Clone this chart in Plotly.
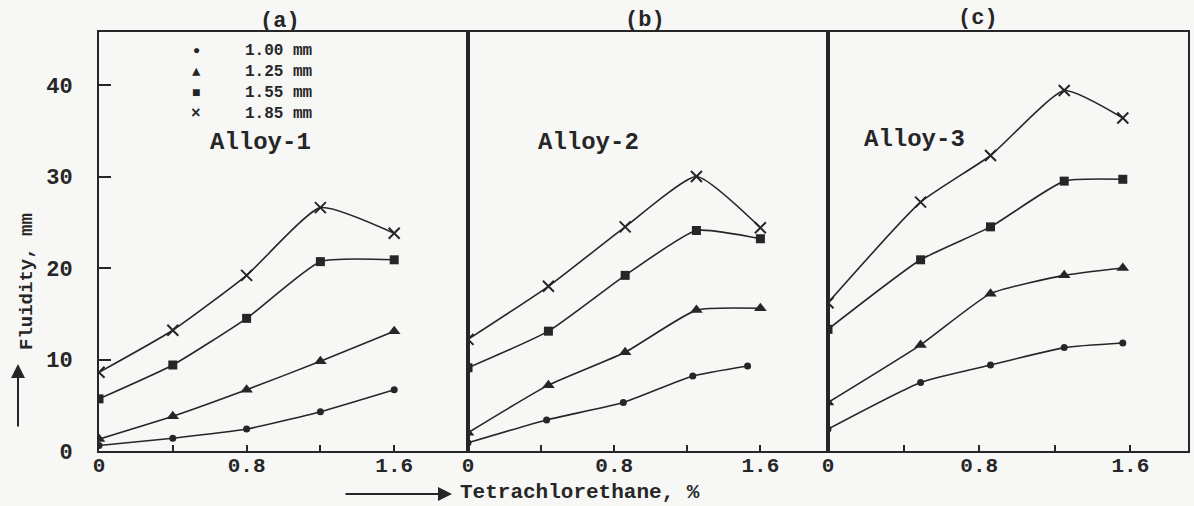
import plotly.graph_objects as go

# ---------------- data ----------------
# x positions (Tetrachlorethane, %) as they sit in each panel
X_A = [0, 0.4, 0.8, 1.2, 1.6]
X_B = [0, 0.44, 0.86, 1.25, 1.6]
X_B_100 = [0, 0.43, 0.85, 1.23, 1.53]
X_C = [0, 0.49, 0.86, 1.25, 1.56]

# Fluidity, mm
A1_100 = [0.6, 1.4, 2.4, 4.3, 6.7]
A1_125 = [1.3, 3.8, 6.7, 9.8, 13.1]
A1_155 = [5.7, 9.4, 14.5, 20.7, 20.9]
A1_185 = [8.6, 13.2, 19.2, 26.6, 23.8]

A2_100 = [0.9, 3.4, 5.3, 8.2, 9.3]
A2_125 = [2.0, 7.2, 10.8, 15.4, 15.6]
A2_155 = [9.1, 13.1, 19.2, 24.1, 23.2]
A2_185 = [12.2, 18.0, 24.5, 30.0, 24.4]

A3_100 = [2.4, 7.5, 9.4, 11.3, 11.8]
A3_125 = [5.3, 11.6, 17.2, 19.2, 20.0]
A3_155 = [13.3, 20.9, 24.5, 29.5, 29.7]
A3_185 = [16.2, 27.2, 32.3, 39.4, 36.4]

THICKNESS = ["1.00 mm", "1.25 mm", "1.55 mm", "1.85 mm"]
LEGEND_GLYPHS = ["\u25cf", "\u25b2", "\u25a0", "\u00d7"]
ALLOYS = ["Alloy-1", "Alloy-2", "Alloy-3"]
PANELS = ["(a)", "(b)", "(c)"]
X_TICKS = [0, 0.4, 0.8, 1.2, 1.6]
X_TICK_TEXT = ["0", "", "0.8", "", "1.6"]
Y_TICKS = [0, 10, 20, 30, 40]
Y_TITLE = "Fluidity, mm"
X_TITLE = "Tetrachlorethane, %"

# ---------------- styling ----------------
W, H = 1194, 506
BG = "#f7f7f6"
INK = "#262626"
FONT = "Liberation Mono"

def px(x):
    return x / W

def py(y):
    return 1 - y / H

SYMBOLS = ["circle", "triangle-up", "square", "x-thin"]
SIZES = [7, 11, 9, 11]

series = [
    (1, [X_A, X_A, X_A, X_A], [A1_100, A1_125, A1_155, A1_185]),
    (2, [X_B_100, X_B, X_B, X_B], [A2_100, A2_125, A2_155, A2_185]),
    (3, [X_C, X_C, X_C, X_C], [A3_100, A3_125, A3_155, A3_185]),
]

fig = go.Figure()
for panel, xs, ys in series:
    suffix = "" if panel == 1 else str(panel)
    for i in range(4):
        fig.add_trace(go.Scatter(
            x=xs[i], y=ys[i], mode="lines+markers",
            xaxis="x" + suffix, yaxis="y" + suffix,
            line=dict(color=INK, width=1.6, shape="spline", smoothing=0.5),
            marker=dict(symbol=SYMBOLS[i], size=SIZES[i], color=INK,
                        line=dict(color=INK, width=2 if SYMBOLS[i] == "x-thin" else 0)),
            showlegend=False, name=THICKNESS[i],
        ))

domains = [(99, 468), (468, 828), (828, 1188)]
xranges = [[0, 2.0], [0, 1.97], [0, 1.905]]
ydom = [py(451), py(32)]
yrange = [0, 45.8]

axis_common = dict(showline=True, linecolor=INK, linewidth=2, mirror=True,
                   showgrid=False, zeroline=False)

layout = dict(
    width=W, height=H, autosize=False,
    margin=dict(l=0, r=0, t=0, b=0, pad=0),
    paper_bgcolor=BG, plot_bgcolor=BG,
    font=dict(family=FONT, color=INK, size=20, weight="bold"),
    showlegend=False,
)

for k in range(3):
    suffix = "" if k == 0 else str(k + 1)
    layout["xaxis" + suffix] = dict(
        axis_common,
        domain=[px(domains[k][0]), px(domains[k][1])],
        range=xranges[k], anchor="y" + suffix, automargin=False,
        tickmode="array", tickvals=X_TICKS, ticktext=X_TICK_TEXT,
        ticks="inside", ticklen=6, tickwidth=2, tickcolor=INK,
        ticklabelstandoff=-6,
        tickfont=dict(family=FONT, size=21, color=INK, weight="bold"),
    )
    ydict = dict(axis_common, domain=ydom, range=yrange, anchor="x" + suffix,
                 automargin=False)
    if k == 0:
        ydict.update(tickmode="array", tickvals=Y_TICKS,
                     ticks="inside", ticklen=12, tickwidth=2, tickcolor=INK,
                     ticklabelstandoff=20,
                     tickfont=dict(family=FONT, size=22, color=INK, weight="bold"))
    else:
        ydict.update(showticklabels=False, ticks="")
    layout["yaxis" + suffix] = ydict

fig.update_layout(**layout)

def note(text, x, y, size, xanchor="center", angle=0):
    fig.add_annotation(text=text, x=px(x), y=py(y), xref="paper", yref="paper",
                       xanchor=xanchor, yanchor="middle", showarrow=False,
                       textangle=angle,
                       font=dict(family=FONT, size=size, color=INK, weight="bold"))

# legend (panel a)
legend_rows = [51, 72, 93, 114]
glyph_sizes = [12, 14, 14, 16]
for i in range(4):
    note(LEGEND_GLYPHS[i], 196, legend_rows[i], glyph_sizes[i])
    note(THICKNESS[i], 243, legend_rows[i], 16, xanchor="left")

# panel labels and alloy names
panel_label_pos = [(280, 22), (645, 21), (978, 18)]
alloy_pos = [(260, 143), (588, 143), (914, 140)]
for k in range(3):
    note(PANELS[k], *panel_label_pos[k], 22)
    note(ALLOYS[k], *alloy_pos[k], 24)

# axis titles with arrows
note(Y_TITLE, 27, 282, 19, angle=-90)
fig.add_annotation(text="", x=px(18), y=py(364), xref="paper", yref="paper",
                   ax=0, ay=64, showarrow=True, arrowhead=2, arrowsize=1.4,
                   arrowwidth=2, arrowcolor=INK)
note(X_TITLE, 458, 492, 21, xanchor="left")
fig.add_annotation(text="", x=px(452), y=py(494), xref="paper", yref="paper",
                   ax=-108, ay=0, showarrow=True, arrowhead=2, arrowsize=1.4,
                   arrowwidth=2, arrowcolor=INK)

css = ("margin:0;padding:0;height:506px;width:1194px;overflow:hidden;background:" + BG + ";")
fig.write_html(
    "out.html",
    config={"displayModeBar": False, "responsive": False},
    post_script="document.documentElement.style.cssText='" + css + "';"
                "document.body.style.cssText='" + css + "';",
)
